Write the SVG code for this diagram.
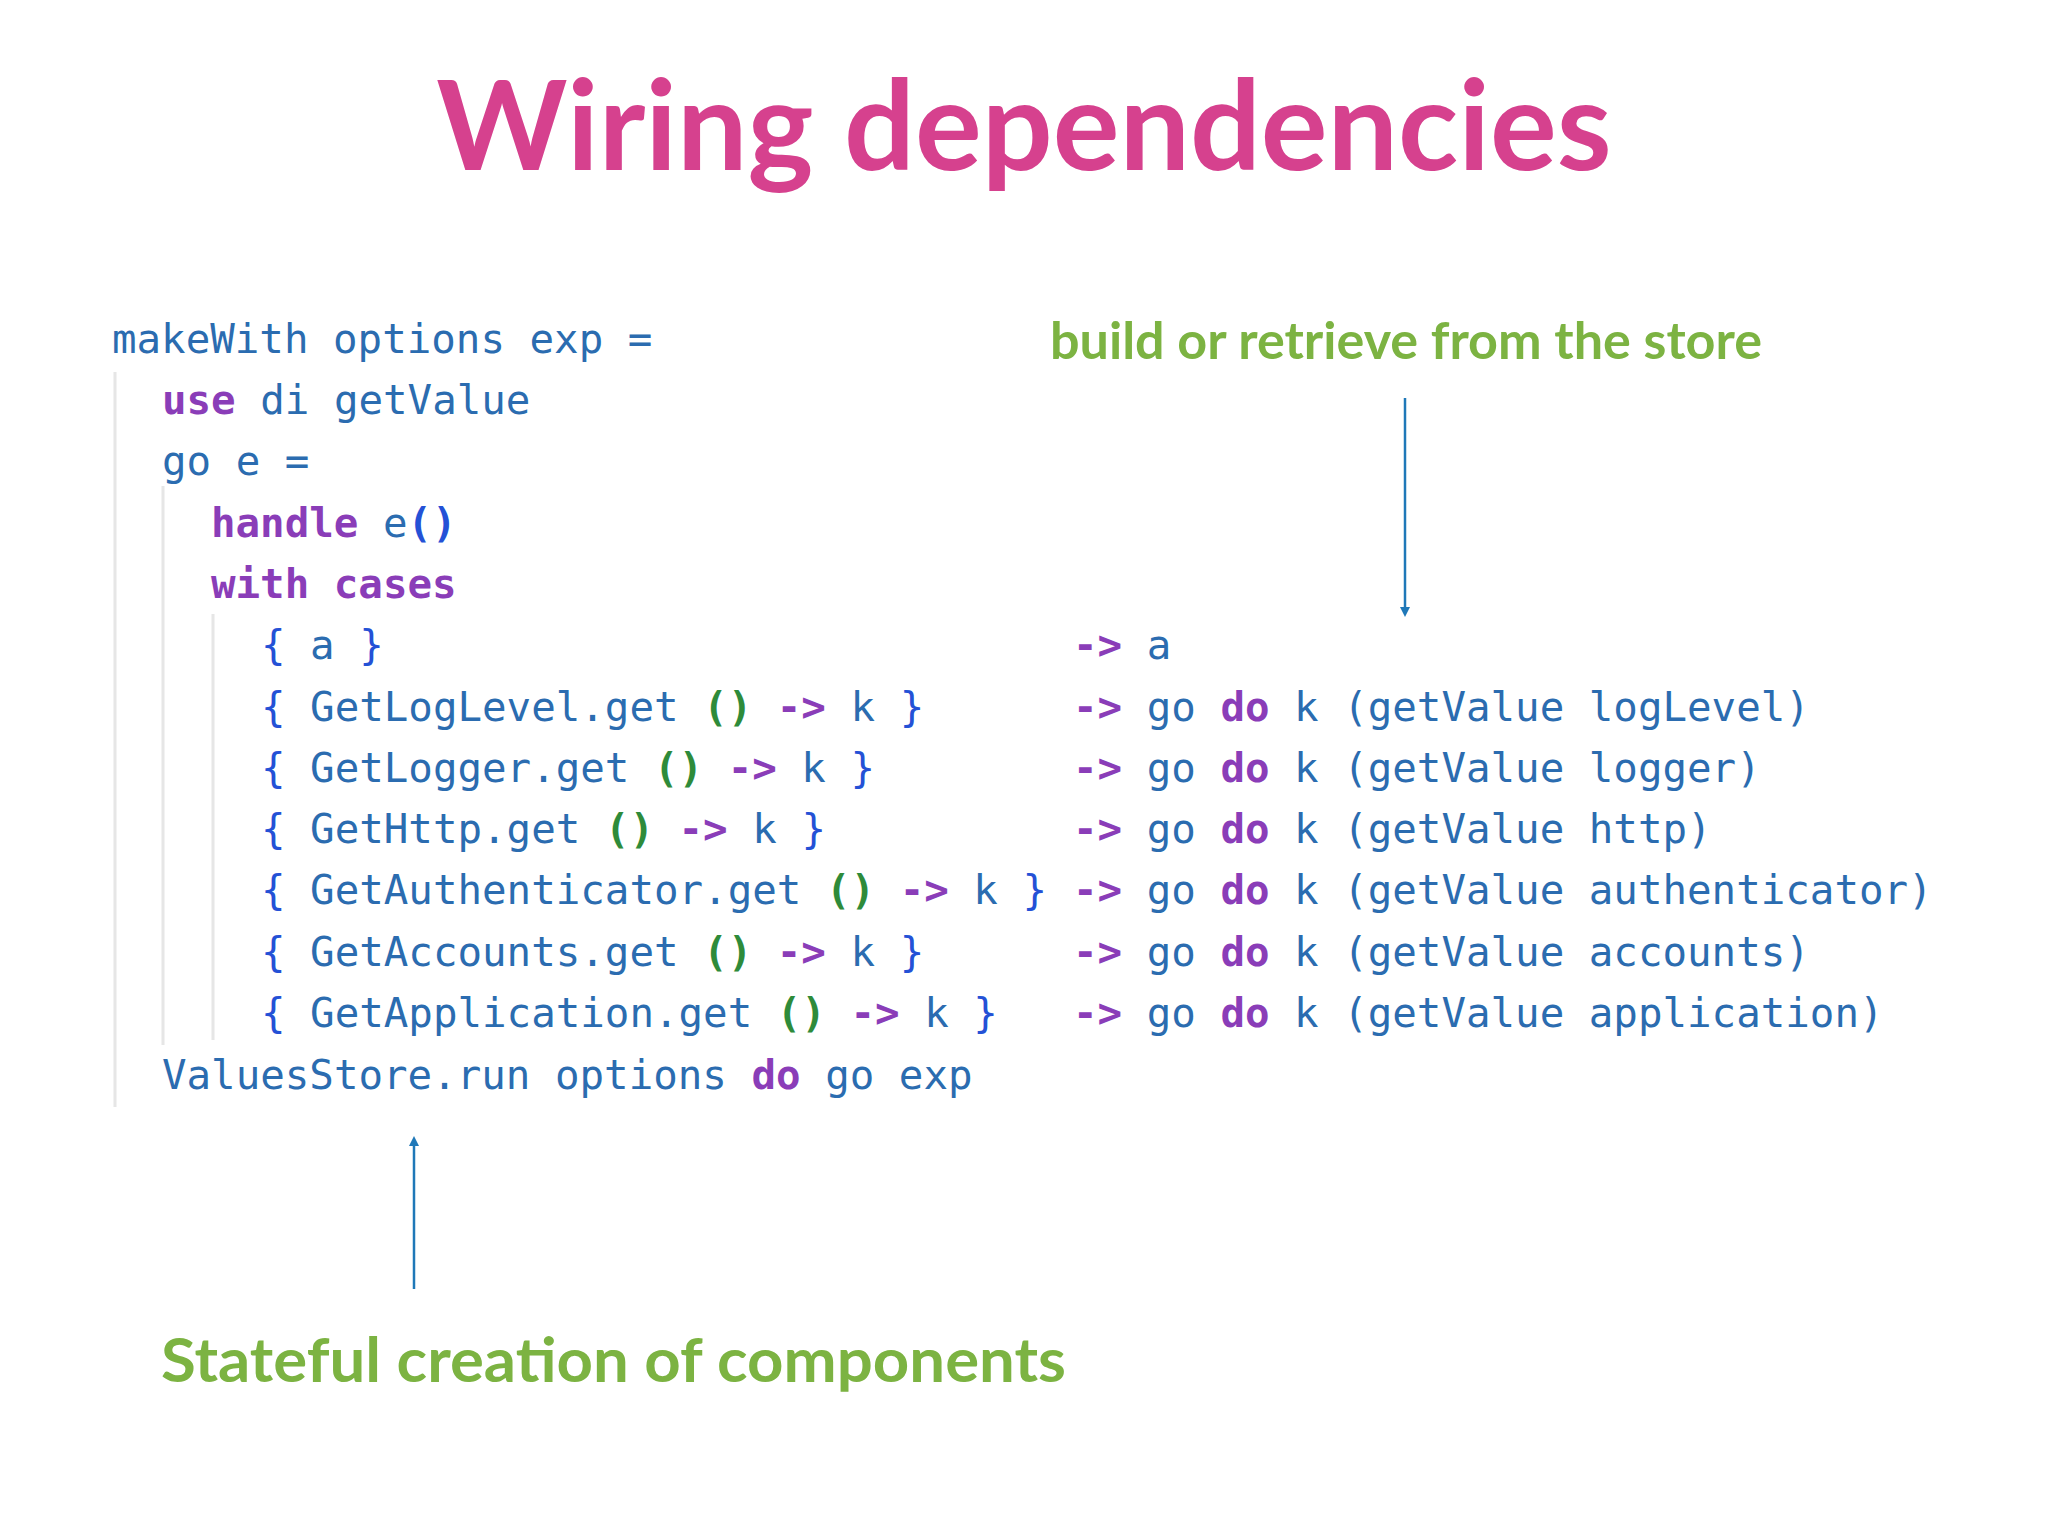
<svg xmlns="http://www.w3.org/2000/svg" width="2048" height="1536" viewBox="0 0 2048 1536">
<style>
.t{font-family:"Lato","Open Sans",sans-serif;font-weight:bold}
.c{font-family:"DejaVu Sans Mono","Liberation Mono",monospace;font-size:40.8px;fill:#2b6cb0;white-space:pre}
.k{fill:#8a3db8;font-weight:bold}
.p{fill:#2e8b3a;font-weight:bold}
.b{fill:#2451d6}
.g{stroke:#e6e6e6;stroke-width:3}
.a{stroke:#1f78b8;stroke-width:2.5;fill:none}
</style>
<defs><marker id="ah" markerWidth="10" markerHeight="10" refX="5" refY="5" orient="auto" markerUnits="userSpaceOnUse"><path d="M0,0 L10,5 L0,10 z" fill="#1f78b8"/></marker></defs>
<rect width="2048" height="1536" fill="#fff"/>
<g id="title"><text class="t" x="1024" y="170" font-size="125" fill="#d6418e" text-anchor="middle">Wiring dependencies</text></g>
<g id="guides"><line class="g" x1="115" y1="372" x2="115" y2="1107"/><line class="g" x1="163" y1="486" x2="163" y2="1045"/><line class="g" x1="213" y1="614" x2="213" y2="1040"/></g>
<g id="code">
<text class="c" x="112" y="353">makeWith options exp =</text>
<text class="c" x="162" y="414"><tspan class="k">use</tspan> di getValue</text>
<text class="c" x="162" y="475">go e =</text>
<text class="c" x="211" y="537"><tspan class="k">handle</tspan> e<tspan class="b" font-weight="bold">()</tspan></text>
<text class="c" x="211" y="598"><tspan class="k">with cases</tspan></text>
<text class="c" x="261" y="659"><tspan class="b">{</tspan> a <tspan class="b">}</tspan></text>
<text class="c" x="261" y="721"><tspan class="b">{</tspan> GetLogLevel.get <tspan class="p">()</tspan> <tspan class="k">-&gt;</tspan> k <tspan class="b">}</tspan></text>
<text class="c" x="261" y="782"><tspan class="b">{</tspan> GetLogger.get <tspan class="p">()</tspan> <tspan class="k">-&gt;</tspan> k <tspan class="b">}</tspan></text>
<text class="c" x="261" y="843"><tspan class="b">{</tspan> GetHttp.get <tspan class="p">()</tspan> <tspan class="k">-&gt;</tspan> k <tspan class="b">}</tspan></text>
<text class="c" x="261" y="904"><tspan class="b">{</tspan> GetAuthenticator.get <tspan class="p">()</tspan> <tspan class="k">-&gt;</tspan> k <tspan class="b">}</tspan></text>
<text class="c" x="261" y="966"><tspan class="b">{</tspan> GetAccounts.get <tspan class="p">()</tspan> <tspan class="k">-&gt;</tspan> k <tspan class="b">}</tspan></text>
<text class="c" x="261" y="1027"><tspan class="b">{</tspan> GetApplication.get <tspan class="p">()</tspan> <tspan class="k">-&gt;</tspan> k <tspan class="b">}</tspan></text>
<text class="c" x="1073" y="659"><tspan class="k">-&gt;</tspan> a</text>
<text class="c" x="1073" y="721"><tspan class="k">-&gt;</tspan> go <tspan class="k">do</tspan> k (getValue logLevel)</text>
<text class="c" x="1073" y="782"><tspan class="k">-&gt;</tspan> go <tspan class="k">do</tspan> k (getValue logger)</text>
<text class="c" x="1073" y="843"><tspan class="k">-&gt;</tspan> go <tspan class="k">do</tspan> k (getValue http)</text>
<text class="c" x="1073" y="904"><tspan class="k">-&gt;</tspan> go <tspan class="k">do</tspan> k (getValue authenticator)</text>
<text class="c" x="1073" y="966"><tspan class="k">-&gt;</tspan> go <tspan class="k">do</tspan> k (getValue accounts)</text>
<text class="c" x="1073" y="1027"><tspan class="k">-&gt;</tspan> go <tspan class="k">do</tspan> k (getValue application)</text>
<text class="c" x="162" y="1089">ValuesStore.run options <tspan class="k">do</tspan> go exp</text>
</g>
<g id="label-store"><text class="t" x="1050" y="359" font-size="52" fill="#7cb342" textLength="712" lengthAdjust="spacingAndGlyphs">build or retrieve from the store</text></g>
<g id="label-stateful"><text class="t" x="161" y="1382" font-size="62" fill="#7cb342" textLength="905" lengthAdjust="spacingAndGlyphs">Stateful creation of components</text></g>
<g id="connectors">
<line class="a" x1="1405" y1="398" x2="1405" y2="612" marker-end="url(#ah)"/>
<line class="a" x1="414" y1="1289" x2="414" y2="1141" marker-end="url(#ah)"/>
</g>
</svg>
